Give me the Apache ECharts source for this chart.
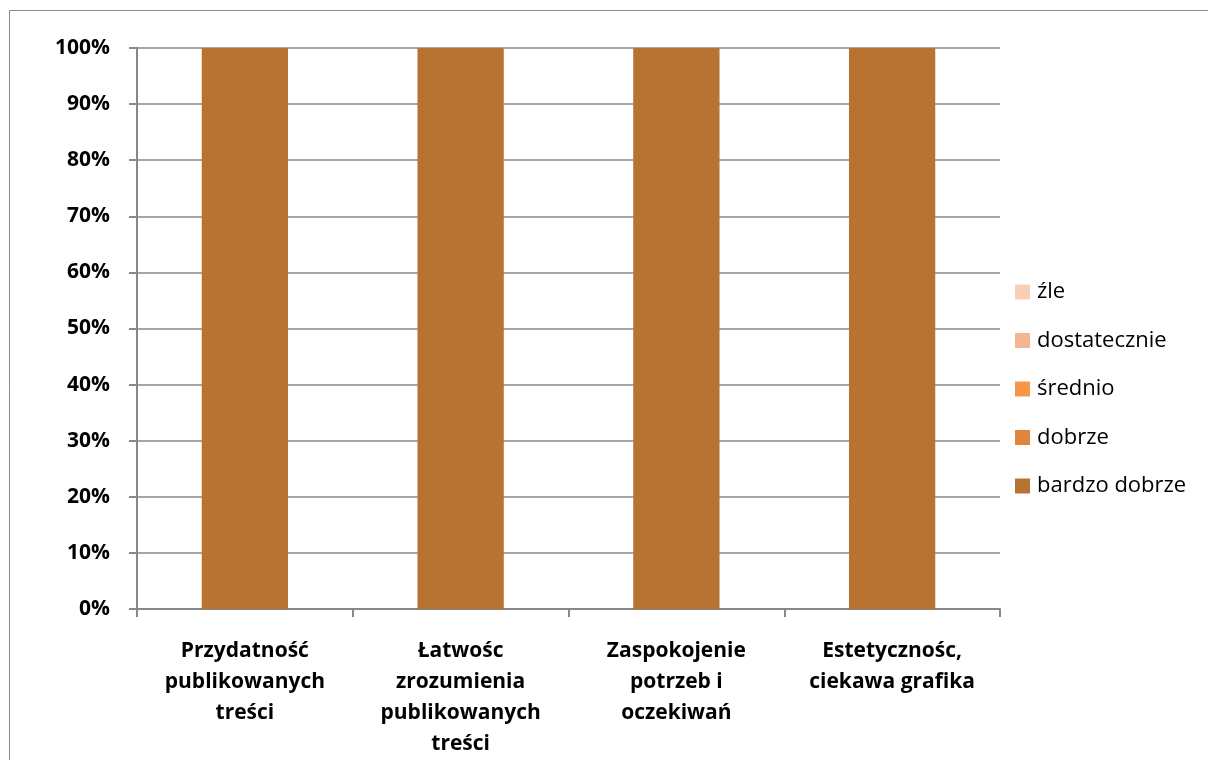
<!DOCTYPE html>
<html><head><meta charset="utf-8">
<script src="https://cdn.jsdelivr.net/npm/echarts@6/dist/echarts.min.js"></script>
<style>html,body{margin:0;padding:0;background:#fff}#c{width:1208px;height:760px}</style>
</head><body><div id="c"></div>
<script>
const categories = ['Przydatność\npublikowanych\ntreści', 'Łatwośc\nzrozumienia\npublikowanych\ntreści', 'Zaspokojenie\npotrzeb i\noczekiwań', 'Estetycznośc,\nciekawa grafika'];
const bardzoDobrze = [100, 100, 100, 100];
const dobrze = [0, 0, 0, 0];
const srednio = [0, 0, 0, 0];
const dostatecznie = [0, 0, 0, 0];
const zle = [0, 0, 0, 0];
const seriesNames = ['bardzo dobrze', 'dobrze', 'średnio', 'dostatecznie', 'źle'];
const seriesData = [bardzoDobrze, dobrze, srednio, dostatecznie, zle];
const colors = ['#B87333', '#DF853D', '#F79646', '#F6B591', '#FACDB8'];

const chart = echarts.init(document.getElementById('c'), null, {renderer: 'canvas'});
const font = '"Open Sans", Lato, sans-serif';
chart.setOption({
  animation: false,
  graphic: [{type: 'rect', shape: {x: 9.5, y: 10.5, width: 1300, height: 900}, style: {fill: 'none', stroke: '#8c8c8c', lineWidth: 1}}],
  grid: {left: 137, right: 208, top: 48, bottom: 151, containLabel: false},
  legend: {
    orient: 'vertical', left: 1015, top: 280, itemGap: 24.5, itemWidth: 15, itemHeight: 15,
    icon: 'rect', padding: 0,
    data: ['źle', 'dostatecznie', 'średnio', 'dobrze', 'bardzo dobrze'],
    textStyle: {fontFamily: font, fontSize: 22, lineHeight: 24, color: '#000', padding: [0, 0, 0, 2]}
  },
  xAxis: {
    type: 'category', data: categories,
    axisLine: {lineStyle: {color: '#888', width: 2}},
    axisTick: {show: true, length: 8, lineStyle: {color: '#888', width: 2}},
    axisLabel: {fontFamily: font, fontWeight: 'bold', fontSize: 21, color: '#000', lineHeight: 31, margin: 27, interval: 0}
  },
  yAxis: {
    type: 'value', min: 0, max: 100, interval: 10,
    axisLine: {show: true, lineStyle: {color: '#888', width: 2}},
    axisTick: {show: true, length: 8, lineStyle: {color: '#888', width: 2}},
    splitLine: {lineStyle: {color: '#888', width: 1.5}},
    axisLabel: {formatter: '{value}%', fontFamily: font, fontWeight: 'bold', fontSize: 21, color: '#000', margin: 27}
  },
  series: seriesNames.map((n, i) => ({
    name: n, type: 'bar', stack: 'total', data: seriesData[i], barWidth: '40%',
    itemStyle: {color: colors[i]}
  }))
});
</script></body></html>
